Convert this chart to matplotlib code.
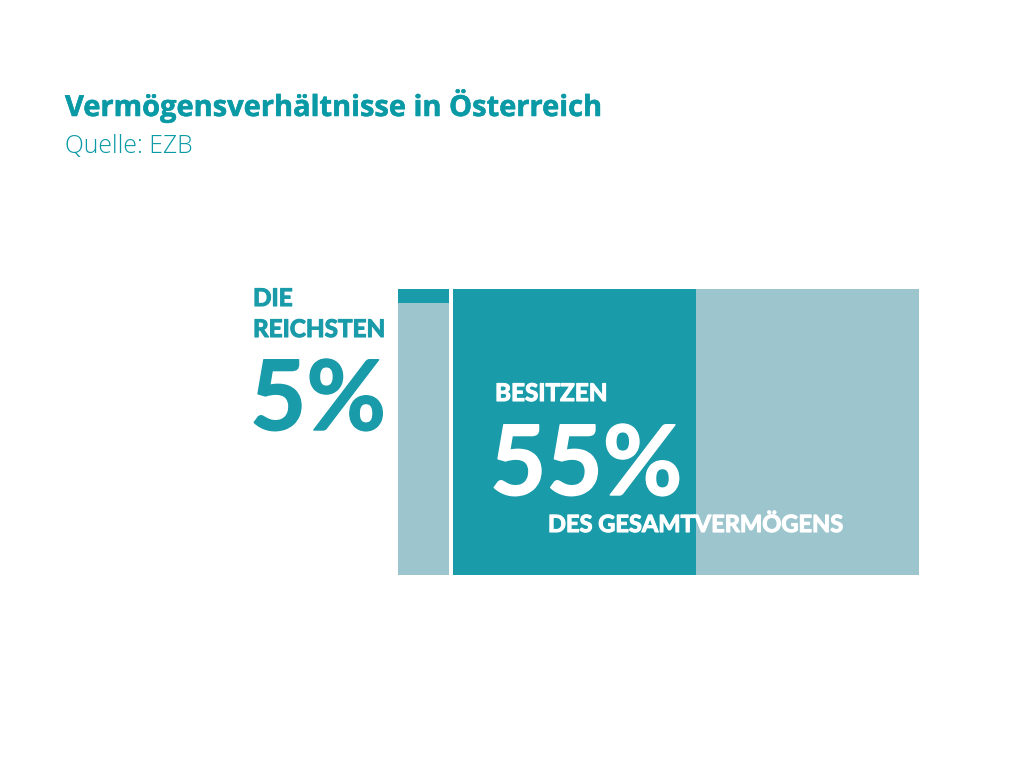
import matplotlib
matplotlib.use("Agg")
import matplotlib.pyplot as plt
import matplotlib.patheffects as pe

W = 1024
H = 768

# left column: share of people, right column: share of wealth
people_parts = [5, 95]
wealth_parts = [52.2, 47.8]

title = "Vermögensverhältnisse in Österreich"
source = "Quelle: EZB"

DARK = "#199ba9"
LIGHT = "#9cc5cd"
TITLE = "#0a9aa6"

plt.rcParams['font.family'] = ['Lato', 'DejaVu Sans']

fig = plt.figure(figsize=(W / 100, H / 100), dpi=100, facecolor="white")

def area(x0, y0, x1, y1):
    return [x0 / W, 1 - y1 / H, (x1 - x0) / W, (y1 - y0) / H]

def label(x, y, s, size, color, weight="bold", family="Lato", stroke=0):
    t = fig.text(x / W, 1 - y / H, s, fontsize=size, color=color, fontweight=weight,
                 family=[family, "DejaVu Sans"], ha="left", va="baseline")
    if stroke:
        # the fonts here have no black cut, so thicken a little
        t.set_path_effects([pe.withStroke(linewidth=stroke, foreground=color)])

ax1 = fig.add_axes(area(398, 289, 449, 575))
ax1.bar([0], [people_parts[0]], width=1, color=DARK)
ax1.bar([0], [people_parts[1]], width=1, bottom=people_parts[0], color=LIGHT)
ax1.set_xlim(-0.5, 0.5)
ax1.set_ylim(100, 0)
ax1.axis("off")

ax2 = fig.add_axes(area(453, 289, 919, 575))
ax2.barh([0], [wealth_parts[0]], height=1, color=DARK)
ax2.barh([0], [wealth_parts[1]], height=1, left=wealth_parts[0], color=LIGHT)
ax2.set_xlim(0, 100)
ax2.set_ylim(-0.5, 0.5)
ax2.axis("off")

label(65, 116, title, 20.9, TITLE, family="Open Sans", stroke=0.4)
label(65, 153, source, 17.8, TITLE, weight="light", family="Open Sans")

label(253, 306, "DIE", 17.5, DARK, stroke=0.8)
label(253, 337, "REICHSTEN", 17.5, DARK, stroke=0.8)
label(250, 430, "5%", 70, DARK, stroke=1)

label(495, 401, "BESITZEN", 17.5, "white", stroke=0.8)
label(490, 495, "55%", 70, "white", stroke=1)
label(548, 532, "DES GESAMTVERMÖGENS", 17, "white", stroke=0.8)

fig.savefig("out.png", dpi=100)
